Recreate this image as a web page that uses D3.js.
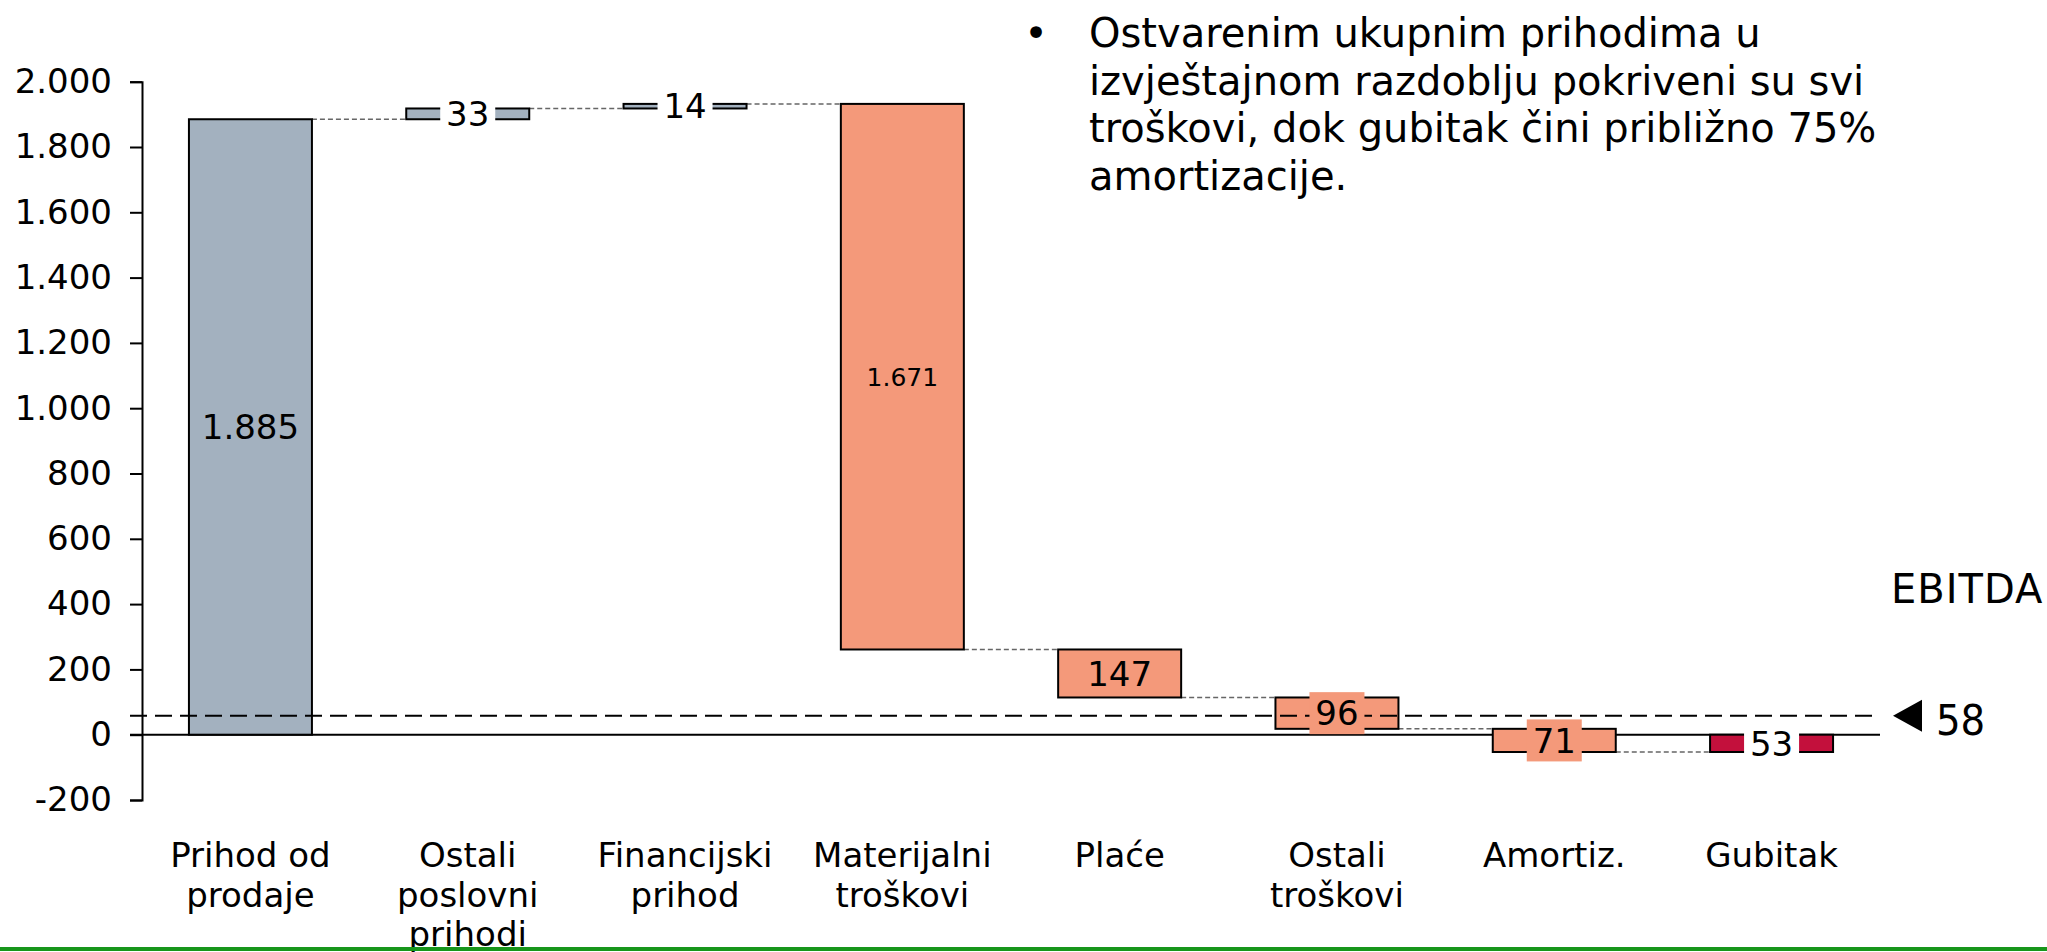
<!DOCTYPE html>
<html><head><meta charset="utf-8">
<script src="https://cdn.jsdelivr.net/npm/d3@7"></script>
<style>
body{margin:0;background:#fff;}
svg{display:block;font-family:"DejaVu Sans",Verdana,sans-serif;}
</style>
</head><body>
<svg id="chart" width="2047" height="952"></svg>
<script>
// ---- data ----
const categories = ["Prihod od prodaje","Ostali poslovni prihodi","Financijski prihod","Materijalni troškovi","Plaće","Ostali troškovi","Amortiz.","Gubitak"];
const categoryLines = [["Prihod od","prodaje"],["Ostali","poslovni","prihodi"],["Financijski","prihod"],["Materijalni","troškovi"],["Plaće"],["Ostali","troškovi"],["Amortiz."],["Gubitak"]];
const deltas = [1885, 33, 14, -1671, -147, -96, -71, 53];
const kinds = ["income","income","income","cost","cost","cost","cost","loss"];
const yTicks = [-200,0,200,400,600,800,1000,1200,1400,1600,1800,2000];
const ebitdaValue = 58;
const ebitdaLabel = "EBITDA";
const noteLines = ["Ostvarenim ukupnim prihodima u","izvještajnom razdoblju pokriveni su svi","troškovi, dok gubitak čini približno 75%","amortizacije."];

// ---- styles ----
const fillByKind = {income:"#a3b1bf", cost:"#f4997a", loss:"#c3103c"};
const labelBgByKind = {income:"#ffffff", cost:"#f4997a", loss:"#ffffff"};
const labelSize = [34,34,34,25,34,34,34,34];

const locale = d3.formatLocale({decimal:",", thousands:".", grouping:[3], currency:["",""], minus:"-"});
const fmt = locale.format(",d");

const svg = d3.select("#chart");
const x = d3.scaleBand().domain(categories).range([142,1880]).paddingInner(0.434).paddingOuter(0.216);
const y = d3.scaleLinear().domain([-200,2000]).range([800,81.7]);
const bw = x.bandwidth();

let run = 0;
const bars = categories.map((c,i)=>{
  const start = run; run += deltas[i];
  return {cat:c, i, start, end:run, kind:kinds[i], v:deltas[i]};
});

// zero line
svg.append("line").attr("x1",130).attr("x2",1880).attr("y1",y(0)).attr("y2",y(0))
  .attr("stroke","#000").attr("stroke-width",2);

// connectors
svg.append("g").selectAll("line").data(bars.slice(0,-1)).join("line")
  .attr("x1",d=>x(d.cat)+bw).attr("x2",d=>x(categories[d.i+1]))
  .attr("y1",d=>y(d.end)).attr("y2",d=>y(d.end))
  .attr("stroke","#666").attr("stroke-width",1.5).attr("stroke-dasharray","5,3");

// bars
svg.append("g").selectAll("rect").data(bars).join("rect")
  .attr("x",d=>x(d.cat)).attr("width",bw)
  .attr("y",d=>y(Math.max(d.start,d.end)))
  .attr("height",d=>Math.abs(y(d.start)-y(d.end)))
  .attr("fill",d=>fillByKind[d.kind]).attr("stroke","#000").attr("stroke-width",2);

// EBITDA dashed line
svg.append("line").attr("x1",130).attr("x2",1880).attr("y1",y(ebitdaValue)).attr("y2",y(ebitdaValue))
  .attr("stroke","#000").attr("stroke-width",2).attr("stroke-dasharray","17,8");

// value labels
const lab = svg.append("g");
bars.forEach(d=>{
  const cx = x(d.cat)+bw/2;
  const cy = (y(d.start)+y(d.end))/2;
  const h = Math.abs(y(d.start)-y(d.end));
  if (h < 42) {
    lab.append("rect").attr("x",cx-27.5).attr("y",cy-21).attr("width",55).attr("height",42)
      .attr("fill",labelBgByKind[d.kind]);
  }
  lab.append("text").attr("x",cx).attr("y",cy).attr("dy","0.36em")
    .attr("text-anchor","middle").attr("font-size",labelSize[d.i]).attr("fill","#000")
    .text(fmt(Math.abs(d.v)));
});

// y axis
const ax = svg.append("g").attr("transform","translate(142,0)")
  .call(d3.axisLeft(y).tickValues(yTicks).tickFormat(fmt).tickSize(12).tickSizeOuter(12).tickPadding(18));
ax.selectAll("path,line").attr("stroke","#000").attr("stroke-width",2);
ax.selectAll("text").attr("font-size",34).attr("fill","#000").attr("font-family","DejaVu Sans, Verdana, sans-serif");

// category labels
const cl = svg.append("g");
categories.forEach((c,i)=>{
  const t = cl.append("text").attr("text-anchor","middle").attr("font-size",34).attr("fill","#000");
  categoryLines[i].forEach((ln,k)=>{
    t.append("tspan").attr("x",x(c)+bw/2).attr("y",867+k*39.5).text(ln);
  });
});

// EBITDA annotation
svg.append("text").attr("x",1891).attr("y",603).attr("font-size",40).attr("letter-spacing",1)
  .attr("fill","#000").text(ebitdaLabel);
const ty = y(ebitdaValue);
svg.append("path").attr("d",`M1893,${ty} L1922,${ty-16} L1922,${ty+16} Z`).attr("fill","#000");
svg.append("text").attr("x",1936).attr("y",735).attr("font-size",43)
  .attr("font-family","DejaVu Sans Condensed, DejaVu Sans, sans-serif").attr("fill","#000").text(fmt(ebitdaValue));

// note
svg.append("text").attr("x",1036).attr("y",47).attr("text-anchor","middle").attr("font-size",40).text("•");
const note = svg.append("text").attr("font-size",40).attr("fill","#000");
noteLines.forEach((ln,k)=>note.append("tspan").attr("x",1089).attr("y",47+k*47.7).text(ln));

// bottom green rule
svg.append("rect").attr("x",0).attr("y",947).attr("width",2047).attr("height",4).attr("fill","#17961b");
</script>
</body></html>
